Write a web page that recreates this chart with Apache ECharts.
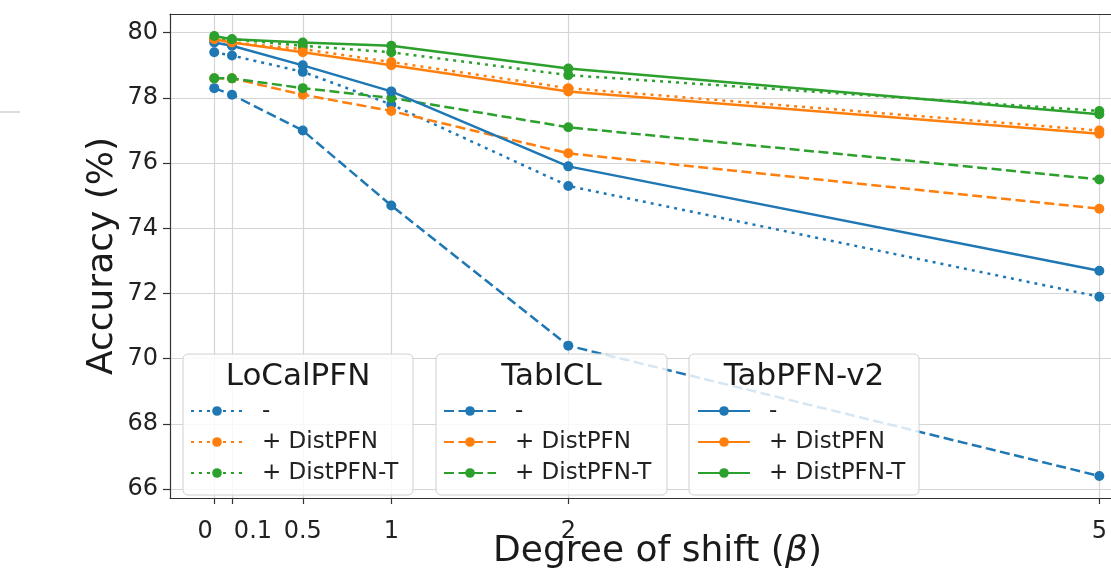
<!DOCTYPE html>
<html><head><meta charset="utf-8">
<script src="https://cdn.jsdelivr.net/npm/echarts@6/dist/echarts.min.js"></script>
<style>html,body{margin:0;padding:0;background:#fff}#c{width:1111px;height:572px}</style>
</head><body><div id="c"></div>
<script>
// ---- data ----
const shiftValues = [0, 0.1, 0.5, 1, 2, 5];
const xTicks = [0, 0.1, 0.5, 1, 2, 5];
const yTicks = [66, 68, 70, 72, 74, 76, 78, 80];
const methods = ['LoCalPFN', 'TabICL', 'TabPFN-v2'];
const variants = ['-', '+ DistPFN', '+ DistPFN-T'];
const localpfn_base  = [79.4, 79.3, 78.8, 77.8, 75.3, 71.9];
const localpfn_dist  = [79.8, 79.7, 79.5, 79.1, 78.3, 77.0];
const localpfn_distT = [79.8, 79.8, 79.6, 79.4, 78.7, 77.6];
const tabicl_base    = [78.3, 78.1, 77.0, 74.7, 70.4, 66.4];
const tabicl_dist    = [78.6, 78.6, 78.1, 77.6, 76.3, 74.6];
const tabicl_distT   = [78.6, 78.6, 78.3, 78.0, 77.1, 75.5];
const tabpfn_base    = [79.7, 79.6, 79.0, 78.2, 75.9, 72.7];
const tabpfn_dist    = [79.8, 79.7, 79.4, 79.0, 78.2, 76.9];
const tabpfn_distT   = [79.9, 79.8, 79.7, 79.6, 78.9, 77.5];

// ---- styling ----
const FONT = 'DejaVu Sans';
const colors = ['#1f77b4', '#ff7f0e', '#2ca02c'];
const lineTypes = [[3, 5], [10, 4.5], 'solid'];
const groupData = [
  [localpfn_base, localpfn_dist, localpfn_distT],
  [tabicl_base, tabicl_dist, tabicl_distT],
  [tabpfn_base, tabpfn_dist, tabpfn_distT]
];

const series = [];
const legends = [];
const legendLeft = [190, 443, 697];
const boxX = [183, 436, 689];
const boxW = [230, 231, 230];
const graphics = [];

methods.forEach((m, gi) => {
  const names = [];
  variants.forEach((v, vi) => {
    const name = m + '|' + v;
    names.push(name);
    series.push({
      type: 'line',
      name: name,
      data: shiftValues.map((x, i) => [x, groupData[gi][vi][i]]),
      symbol: 'circle',
      symbolSize: 10,
      showAllSymbol: true,
      color: colors[vi],
      lineStyle: { width: 2.5, type: lineTypes[gi], color: colors[vi], cap: 'butt' },
      itemStyle: { color: colors[vi] },
      emphasis: { disabled: true },
      animation: false,
      z: 2
    });
  });
  legends.push({
    orient: 'vertical',
    left: legendLeft[gi],
    top: 399,
    padding: 0,
    itemWidth: 52,
    itemHeight: 12,
    itemGap: 7,
    z: 20,
    selectedMode: false,
    data: names,
    formatter: n => n.split('|')[1],
    textStyle: { fontFamily: FONT, fontSize: 23, color: '#222', lineHeight: 24, padding: [0, 0, 0, 14] }
  });
  graphics.push({
    type: 'rect', z: 10,
    shape: { x: boxX[gi], y: 354, width: boxW[gi], height: 141, r: 5 },
    style: { fill: 'rgba(255,255,255,0.82)', stroke: '#d0d0d0', lineWidth: 1 }
  });
  graphics.push({
    type: 'text', z: 21,
    x: boxX[gi] + boxW[gi] / 2, y: 377,
    style: { text: m, fontFamily: FONT, fontSize: 31, fill: '#1a1a1a', align: 'center', verticalAlign: 'middle' }
  });
});

graphics.push({ type: 'line', z: 1, shape: { x1: 0, y1: 112, x2: 20, y2: 112 }, style: { stroke: '#bbb', lineWidth: 1 } });

const X_MIN = -0.25, X_MAX = 5.066;
const axisLineStyle = { color: '#333', width: 1.2 };

const chart = echarts.init(document.getElementById('c'), null, { renderer: 'canvas' });
chart.setOption({
  animation: false,
  backgroundColor: '#fff',
  grid: { left: 170, top: 14, right: 0, height: 484, show: false, containLabel: false, outerBoundsMode: 'none' },
  xAxis: [{
    type: 'value', min: X_MIN, max: X_MAX, position: 'bottom',
    name: 'Degree of shift ({i|β})', nameLocation: 'middle', nameGap: 36, nameMoveOverlap: false,
    nameTextStyle: { fontFamily: FONT, fontSize: 36, color: '#1a1a1a', padding: [0, 0, 0, 34],
      rich: { i: { fontFamily: FONT, fontSize: 36, fontStyle: 'italic', color: '#1a1a1a' } } },
    axisLine: { show: true, onZero: false, lineStyle: axisLineStyle },
    axisTick: { show: true, length: 6, customValues: xTicks, lineStyle: axisLineStyle },
    axisLabel: {
      customValues: xTicks, showMinLabel: true, showMaxLabel: true, hideOverlap: false,
      fontFamily: FONT, fontSize: 24, color: '#222', margin: 22,
      formatter: v => v === 0 ? '{l|0}' : (v === 0.1 ? '{r|0.1}' : String(v)),
      rich: {
        l: { fontFamily: FONT, fontSize: 24, color: '#222', padding: [0, 18, 0, 0] },
        r: { fontFamily: FONT, fontSize: 24, color: '#222', padding: [0, 0, 0, 42] }
      }
    },
    splitLine: { show: true, lineStyle: { color: '#d5d5d5', width: 1.2 } }
  }, {
    type: 'value', min: X_MIN, max: X_MAX, position: 'top',
    axisLine: { show: true, onZero: false, lineStyle: axisLineStyle },
    axisTick: { show: false }, axisLabel: { show: false }, splitLine: { show: false }
  }],
  yAxis: {
    type: 'value', min: 65.725, max: 80.575,
    name: 'Accuracy (%)', nameLocation: 'middle', nameGap: 49, nameMoveOverlap: false,
    nameTextStyle: { fontFamily: FONT, fontSize: 36, color: '#1a1a1a' },
    axisLine: { show: true, onZero: false, lineStyle: axisLineStyle },
    axisTick: { show: true, length: 7, customValues: yTicks, lineStyle: axisLineStyle },
    axisLabel: { customValues: yTicks, fontFamily: FONT, fontSize: 24, color: '#222', margin: 12 },
    splitLine: { show: true, lineStyle: { color: '#d5d5d5', width: 1.2 } }
  },
  legend: legends,
  graphic: graphics,
  series: series
});
</script>
</body></html>
